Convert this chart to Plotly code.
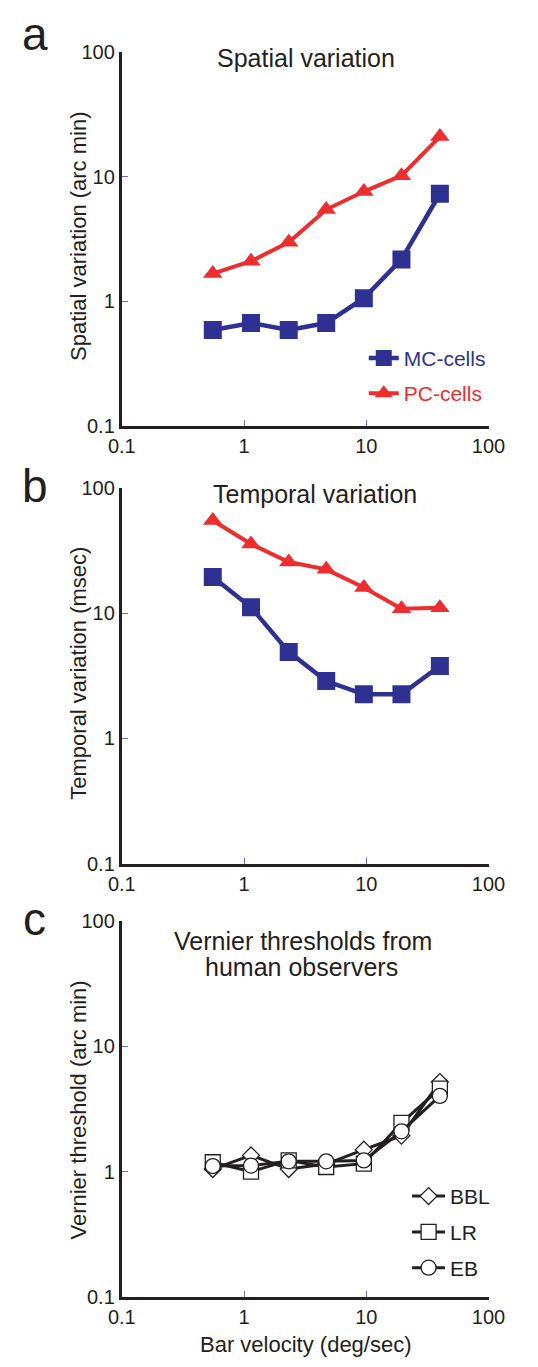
import plotly.graph_objects as go

# ---- data ----
velocity = [0.555, 1.14, 2.32, 4.7, 9.55, 19.4, 40]  # bar velocity (deg/sec), as plotted

spatial_mc = [0.59, 0.67, 0.59, 0.67, 1.06, 2.17, 7.3]
spatial_pc = [1.67, 2.1, 2.98, 5.45, 7.6, 10.2, 21]

temporal_mc = [19.4, 11.1, 4.9, 2.87, 2.25, 2.25, 3.78]
temporal_pc = [54.7, 35.5, 25.5, 22.3, 16, 10.8, 11]

vernier_bbl = [1.05, 1.35, 1.05, 1.15, 1.5, 1.94, 5.2]
vernier_lr = [1.19, 1.0, 1.23, 1.09, 1.16, 2.45, 4.6]
vernier_eb = [1.11, 1.12, 1.21, 1.21, 1.23, 2.1, 4.03]

tick_vals = [0.1, 1, 10, 100]
tick_text = ["0.1", "1", "10", "100"]

BLUE = "#2E3192"
RED = "#EE2D2F"
INK = "#231F20"
TICK = "#6B6BC0"
FONT = "Liberation Sans, Arial, Helvetica, sans-serif"

OFF = 8  # page body margin
W, H = 538 - OFF, 1367 - OFF

def px(x):
    return (x - OFF) / W

def py(y):
    return 1 - (y - OFF) / H

fig = go.Figure()

# panel a
fig.add_trace(go.Scatter(x=velocity, y=spatial_mc, mode="lines+markers",
    name='<span style="color:%s">MC-cells</span>' % BLUE, legendgroup="mc",
    line=dict(color=BLUE, width=4.5), marker=dict(symbol="square", size=18, color=BLUE),
    xaxis="x", yaxis="y", legend="legend"))
fig.add_trace(go.Scatter(x=velocity, y=spatial_pc, mode="lines+markers",
    name='<span style="color:%s">PC-cells</span>' % RED, legendgroup="pc",
    line=dict(color=RED, width=4), marker=dict(symbol="triangle-up", size=17, color=RED),
    xaxis="x", yaxis="y", legend="legend"))

# panel b
fig.add_trace(go.Scatter(x=velocity, y=temporal_mc, mode="lines+markers", showlegend=False,
    line=dict(color=BLUE, width=4.5), marker=dict(symbol="square", size=18, color=BLUE),
    xaxis="x2", yaxis="y2"))
fig.add_trace(go.Scatter(x=velocity, y=temporal_pc, mode="lines+markers", showlegend=False,
    line=dict(color=RED, width=4), marker=dict(symbol="triangle-up", size=17, color=RED),
    xaxis="x2", yaxis="y2"))

# panel c
for vals, sym, sz, nm in [(vernier_bbl, "diamond", 13, "BBL"),
                          (vernier_lr, "square", 15, "LR"),
                          (vernier_eb, "circle", 15, "EB")]:
    fig.add_trace(go.Scatter(x=velocity, y=vals, mode="lines+markers", name=nm,
        legendgroup=nm,
        line=dict(color=INK, width=3),
        marker=dict(symbol=sym, size=sz, color="white", line=dict(color=INK, width=1.3)),
        xaxis="x3", yaxis="y3", legend="legend2"))

xdom = [px(114), px(503.5)]

def ydom(top, bot):
    return [py(bot), py(top)]

axis_common = dict(type="log", range=[-1, 2], tickvals=tick_vals, ticktext=tick_text,
    showline=True, linecolor=INK, linewidth=3, ticks="inside", ticklen=6,
    tickcolor=TICK, tickwidth=1, showgrid=False, zeroline=False,
    tickfont=dict(family=FONT, size=20, color=INK))

layout = dict(width=W, height=H, margin=dict(l=0, r=0, t=0, b=0),
    paper_bgcolor="white", plot_bgcolor="white", font=dict(family=FONT, color=INK))
doms = [ydom(41.6, 421.7), ydom(484.3, 866.8), ydom(925, 1307)]
for i, d in enumerate(doms):
    s = "" if i == 0 else str(i + 1)
    layout["xaxis" + s] = dict(axis_common, domain=xdom, anchor="y" + s)
    layout["yaxis" + s] = dict(axis_common, domain=d, anchor="x" + s)

layout["legend"] = dict(x=px(371), y=py(332), xanchor="left", yanchor="top",
    font=dict(family=FONT, size=21), bgcolor="rgba(0,0,0,0)", tracegroupgap=5)
layout["legend2"] = dict(x=px(417), y=py(1184), xanchor="left", yanchor="top",
    font=dict(family=FONT, size=21, color=INK), bgcolor="rgba(0,0,0,0)",
    tracegroupgap=5.5, itemwidth=33)
fig.update_layout(**layout)

ann = []

def text(x, y, s, size, angle=0):
    ann.append(dict(x=px(x), y=py(y), xref="paper", yref="paper", text=s,
        showarrow=False, textangle=angle, xanchor="center", yanchor="middle",
        font=dict(family=FONT, size=size, color=INK)))

text(22, 23, "a", 46)
text(22, 483, "b", 46)
text(21, 923, "c", 46)
text(310, 48, "Spatial variation", 25)
text(319, 490.5, "Temporal variation", 25)
text(306, 945.5, "Vernier thresholds from", 25)
text(305, 971.5, "human observers", 25)
text(68, 229, "Spatial variation (arc min)", 22, -90)
text(68, 673, "Temporal variation (msec)", 22, -90)
text(68, 1117, "Vernier threshold (arc min)", 22, -90)
text(310, 1355, "Bar velocity (deg/sec)", 22)
fig.update_layout(annotations=ann)

fig.write_html("out.html")
